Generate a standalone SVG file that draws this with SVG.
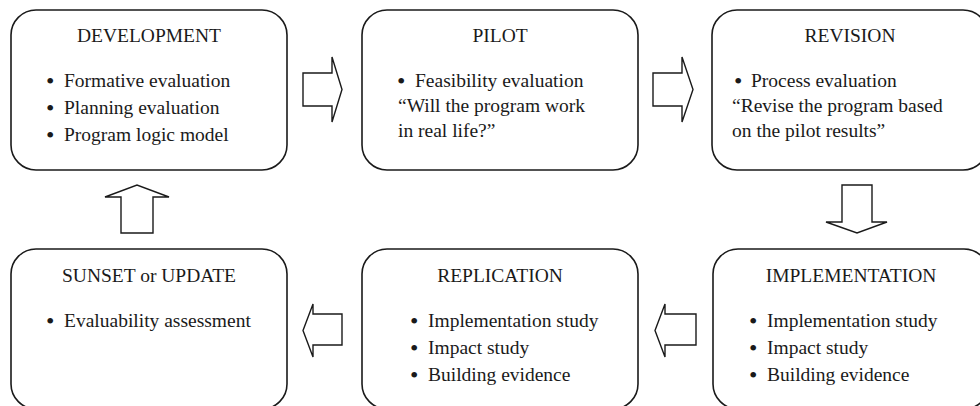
<svg xmlns="http://www.w3.org/2000/svg" width="980" height="406" viewBox="0 0 980 406">
<style>
.box{fill:#fff;stroke:#1a1a1a;stroke-width:1.6}
.arr{fill:#fff;stroke:#1a1a1a;stroke-width:1.4;stroke-linejoin:miter}
.txt text{font-size:19.5px;fill:#1a1a1a}
.t{text-anchor:middle}
.b{font-size:24px}
</style>
<rect width="980" height="406" fill="#fff"/>
<g class="txt" font-family="'Liberation Serif', 'Times New Roman', Times, 'DejaVu Serif', serif">
<g id="development">
<rect class="box" x="11" y="10" width="276" height="160" rx="25" ry="25"/>
<text class="t" x="149" y="42">DEVELOPMENT</text>
<text x="46" y="87"><tspan class="b" dy="1.5">•</tspan><tspan x="64" dy="-1.5">Formative evaluation</tspan></text>
<text x="46" y="114"><tspan class="b" dy="1.5">•</tspan><tspan x="64" dy="-1.5">Planning evaluation</tspan></text>
<text x="46" y="141"><tspan class="b" dy="1.5">•</tspan><tspan x="64" dy="-1.5">Program logic model</tspan></text>
</g>
<g id="pilot">
<rect class="box" x="362" y="10" width="276" height="160" rx="25" ry="25"/>
<text class="t" x="500" y="42">PILOT</text>
<text x="397" y="87"><tspan class="b" dy="1.5">•</tspan><tspan x="415" dy="-1.5">Feasibility evaluation</tspan></text>
<text x="398" y="112">“Will the program work</text>
<text x="398" y="137">in real life?”</text>
</g>
<g id="revision">
<rect class="box" x="712" y="10" width="276" height="160" rx="25" ry="25"/>
<text class="t" x="850" y="42">REVISION</text>
<text x="734" y="87"><tspan class="b" dy="1.5">•</tspan><tspan x="751" dy="-1.5">Process evaluation</tspan></text>
<text x="732" y="112">“Revise the program based</text>
<text x="732" y="137">on the pilot results”</text>
</g>
<g id="sunset">
<rect class="box" x="11" y="249" width="276" height="160" rx="25" ry="25"/>
<text class="t" x="149" y="282">SUNSET or UPDATE</text>
<text x="46" y="327"><tspan class="b" dy="1.5">•</tspan><tspan x="64" dy="-1.5">Evaluability assessment</tspan></text>
</g>
<g id="replication">
<rect class="box" x="362" y="249" width="276" height="160" rx="25" ry="25"/>
<text class="t" x="500" y="282">REPLICATION</text>
<text x="410" y="327"><tspan class="b" dy="1.5">•</tspan><tspan x="428" dy="-1.5">Implementation study</tspan></text>
<text x="410" y="354"><tspan class="b" dy="1.5">•</tspan><tspan x="428" dy="-1.5">Impact study</tspan></text>
<text x="410" y="381"><tspan class="b" dy="1.5">•</tspan><tspan x="428" dy="-1.5">Building evidence</tspan></text>
</g>
<g id="implementation">
<rect class="box" x="713" y="249" width="276" height="160" rx="25" ry="25"/>
<text class="t" x="851" y="282">IMPLEMENTATION</text>
<text x="749" y="327"><tspan class="b" dy="1.5">•</tspan><tspan x="767" dy="-1.5">Implementation study</tspan></text>
<text x="749" y="354"><tspan class="b" dy="1.5">•</tspan><tspan x="767" dy="-1.5">Impact study</tspan></text>
<text x="749" y="381"><tspan class="b" dy="1.5">•</tspan><tspan x="767" dy="-1.5">Building evidence</tspan></text>
</g>
</g>
<g id="connectors">
<polygon class="arr" points="303,73 332,73 332,57 342,89.5 332,122 332,106 303,106"/>
<polygon class="arr" points="653,73 682,73 682,57 693,89.5 682,122 682,106 653,106"/>
<polygon class="arr" points="842,185 872,185 872,222 887,222 857,233 826,222 842,222"/>
<polygon class="arr" points="696,314 665,314 665,304 655,330.5 665,357 665,345 696,345"/>
<polygon class="arr" points="342,314 313,314 313,304 303,330.5 313,357 313,345 342,345"/>
<polygon class="arr" points="121,233 121,197 105,197 137,185 169,197 153,197 153,233"/>
</g>
</svg>
